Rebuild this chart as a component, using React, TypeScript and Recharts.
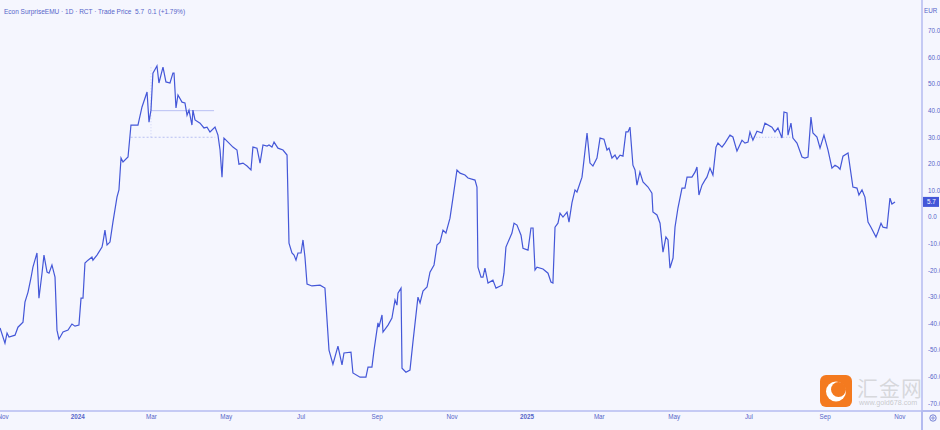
import React from 'react';
import { LineChart, Line, XAxis, YAxis, ReferenceLine } from 'recharts';

// days since 2023-11-01
const days = [
  -2.4, 1.6, 3.3, 4.9, 9.8, 12.2, 16.3, 17.9, 20.4, 22.8, 24.4, 27.7, 29.3, 31.8, 33.4, 35.9, 37.5, 39.9, 42.4, 44.0,
  45.6, 48.9, 53.0, 56.2, 58.7, 61.9, 63.6, 65.2, 66.8, 69.3, 72.5, 73.3, 76.6, 80.7, 81.5, 83.1, 84.8, 87.2, 89.6, 92.9,
  94.5, 96.2, 97.8, 101.9, 104.3, 110.0, 113.3, 117.4, 119.0, 120.6, 122.2, 125.5, 127.1, 130.4, 132.8, 136.1, 138.5, 139.4, 141.0, 142.6,
  145.9, 148.3, 150.0, 151.6, 154.0, 154.8, 156.5, 160.6, 163.8, 166.3, 168.7, 172.8, 175.2, 176.9, 178.5, 180.1, 183.4, 187.4, 190.7, 192.3,
  195.6, 198.9, 202.1, 203.7, 207.0, 209.5, 211.9, 215.2, 216.8, 219.2, 220.9, 224.1, 228.2, 231.5, 233.1, 235.5, 237.2, 238.8, 240.4, 242.9,
  244.5, 246.1, 247.8, 251.8, 258.4, 262.4, 265.7, 268.9, 273.0, 276.3, 277.9, 283.6, 285.2, 291.0, 295.8, 297.5, 300.7, 302.4, 305.6, 306.4,
  308.9, 309.7, 313.8, 317.0, 319.5, 321.1, 321.9, 324.4, 325.2, 328.4, 331.7, 334.1, 338.2, 339.9, 342.3, 345.6, 348.0, 351.3, 353.7, 356.2,
  358.6, 361.0, 364.3, 366.7, 370.0, 372.5, 376.5, 379.0, 384.7, 386.3, 387.1, 389.6, 391.2, 392.8, 395.3, 399.3, 401.8, 406.7, 408.3, 409.9,
  414.8, 416.5, 418.9, 422.2, 423.8, 427.9, 430.3, 432.0, 433.6, 435.2, 440.1, 444.2, 446.6, 448.2, 449.9, 452.3, 454.0, 456.4, 459.7, 461.3,
  463.7, 466.2, 467.8, 471.9, 473.5, 476.0, 478.4, 480.8, 484.1, 486.6, 489.8, 492.3, 493.9, 496.3, 498.8, 500.4, 502.9, 505.3, 507.7, 509.4,
  511.0, 513.4, 515.1, 516.7, 519.1, 521.6, 525.7, 528.9, 529.7, 533.0, 535.5, 537.9, 540.3, 542.0, 543.6, 546.1, 547.7, 550.1, 553.4, 555.8,
  557.5, 561.5, 564.0, 565.6, 567.2, 569.7, 572.1, 573.7, 576.2, 578.6, 581.1, 582.7, 586.0, 588.4, 592.5, 594.9, 598.2, 602.3, 604.7, 607.2,
  608.8, 611.2, 614.5, 618.6, 621.0, 626.7, 629.2, 631.6, 634.9, 636.5, 639.0, 639.8, 642.2, 643.8, 647.1, 651.2, 653.6, 656.1, 658.5, 660.1,
  663.4, 665.9, 669.1, 672.4, 675.6, 678.1, 680.5, 682.2, 684.6, 688.7, 692.7, 696.0, 697.6, 700.1, 702.5, 705.0, 707.4, 711.5, 713.1, 715.6,
  717.2, 720.4, 722.9, 724.5, 727.0,
];

const surprise = [
  -41.7, -47.4, -43.6, -45.1, -44.4, -41.4, -39.5, -32.0, -28.2, -22.9, -18.8, -13.5, -30.5, -21.1, -14.3, -20.7, -21.1, -18.0, -22.6, -42.5,
  -45.9, -43.2, -42.5, -40.2, -41.0, -40.6, -30.5, -30.5, -17.3, -16.2, -15.0, -16.2, -14.3, -11.3, -9.4, -4.9, -10.5, -9.4, -1.9, 7.5,
  10.2, 22.2, 20.7, 22.6, 34.6, 34.6, 41.4, 47.0, 35.7, 40.2, 54.1, 56.8, 50.4, 56.4, 50.8, 50.4, 54.1, 54.1, 41.0, 45.9,
  43.2, 42.9, 38.3, 40.2, 34.6, 40.2, 36.5, 35.3, 33.5, 33.8, 32.0, 33.8, 30.8, 25.2, 15.0, 29.7, 28.2, 26.3, 25.2, 19.9,
  20.3, 19.2, 17.7, 26.3, 25.9, 20.3, 27.1, 26.7, 27.1, 26.3, 28.2, 25.9, 25.2, 23.3, -9.8, -13.5, -14.3, -16.2, -13.5, -13.5,
  -8.6, -15.0, -25.2, -25.9, -25.6, -26.7, -50.0, -55.3, -48.5, -55.6, -51.1, -50.8, -58.6, -60.2, -60.2, -56.4, -56.4, -50.0, -39.8, -41.4,
  -36.8, -43.2, -40.6, -38.0, -31.2, -33.1, -28.6, -26.7, -56.8, -58.3, -57.5, -47.0, -30.1, -32.3, -27.8, -26.3, -20.7, -18.0, -10.5, -9.4,
  -4.9, -6.0, -0.4, 7.1, 17.7, 16.5, 15.8, 14.7, 13.9, 11.3, -18.8, -22.6, -22.6, -19.2, -24.8, -23.7, -26.7, -25.6, -21.1, -11.3,
  -6.0, -2.3, -3.0, -6.8, -11.7, -12.4, -4.1, -4.1, -19.9, -18.8, -19.5, -21.1, -24.4, -24.8, -3.8, -2.3, 1.5, 0.0, 1.9, -1.9,
  5.3, 10.2, 9.4, 15.0, 21.4, 31.6, 20.3, 19.2, 22.2, 29.7, 29.3, 25.2, 25.9, 22.2, 23.3, 21.8, 23.3, 22.9, 32.0, 32.0,
  33.8, 19.5, 17.7, 12.0, 16.9, 13.2, 11.3, 9.0, 1.9, 0.8, -2.3, -13.2, -7.5, -8.6, -19.2, -15.4, -3.8, 3.4, 10.9, 10.9,
  15.0, 15.0, 16.9, 18.8, 8.3, 12.0, 13.9, 15.0, 18.4, 15.8, 26.3, 27.8, 26.3, 27.8, 30.8, 30.1, 24.8, 28.9, 27.8, 28.2,
  32.0, 28.9, 32.3, 31.6, 35.3, 33.8, 32.0, 33.5, 29.7, 39.5, 39.1, 30.8, 35.3, 29.7, 27.8, 22.6, 22.2, 22.6, 37.6, 31.6,
  30.1, 25.9, 30.8, 25.2, 18.4, 19.5, 18.8, 18.0, 22.9, 24.1, 11.3, 10.9, 8.3, 10.2, 7.5, -1.9, -3.8, -7.5, -5.6, -2.3,
  -3.8, -4.1, 7.1, 4.9, 5.7,
];

const monthTicks = [0, 61, 121, 182, 243, 305, 366, 427, 486, 547, 608, 670, 731];
const monthLabels = ['Nov', '2024', 'Mar', 'May', 'Jul', 'Sep', 'Nov', '2025', 'Mar', 'May', 'Jul', 'Sep', 'Nov'];
const valueTicks = [-70, -60, -50, -40, -30, -20, -10, 0, 10, 20, 30, 40, 50, 60, 70];
const lastValue = 5.7;

const data = days.map((d, i) => ({ day: d, value: surprise[i] }));

const BLUE = '#4457d8';
const AXIS = '#b4bbf0';
const TEXT = '#5565c9';
const FONT = '"Liberation Sans", Arial, sans-serif';

const XTick = (props: any) => {
  const { x, y, payload } = props;
  const idx = monthTicks.indexOf(payload.value);
  const label = idx >= 0 ? monthLabels[idx] : '';
  const isYear = label.startsWith('20');
  return (
    <text x={x} y={y} dy="0.71em" textAnchor="middle" fontSize={6.3} fill={TEXT}
      fontFamily={FONT} fontWeight={isYear ? 'bold' : 'normal'}>
      {label}
    </text>
  );
};

const PriceTag = (props: any) => {
  const vb = props.viewBox || {};
  const x = vb.x + vb.width;
  const y = vb.y;
  return (
    <g>
      <rect x={x + 1} y={y - 5} width={16} height={10} fill={BLUE} />
      <text x={x + 5} y={y + 2.3} fontSize={6.3} fill="#ffffff" fontFamily={FONT}>{lastValue.toFixed(1)}</text>
    </g>
  );
};

export default function App() {
  return (
    <div style={{ position: 'fixed', left: 0, top: 0, width: 940, height: 430, background: '#f5f6fe', overflow: 'hidden' }}>
      <div style={{ position: 'absolute', left: 4, top: 8, fontSize: 6.5, color: TEXT, fontFamily: FONT, whiteSpace: 'pre' }}>
        {'Econ SurpriseEMU · 1D · RCT · Trade Price  5.7  0.1 (+1.79%)'}
      </div>
      <div style={{ position: 'absolute', left: 924, top: 7, fontSize: 6.3, color: TEXT, fontFamily: FONT }}>EUR</div>
      <LineChart width={940} height={430} data={data} margin={{ top: 0, right: 0, left: 0, bottom: 0 }}>
        <XAxis
          dataKey="day"
          type="number"
          domain={[-2.44, 749]}
          ticks={monthTicks}
          interval={0}
          tick={<XTick />}
          tickLine={false}
          tickSize={3}
          tickMargin={1}
          axisLine={{ stroke: AXIS, strokeWidth: 1.5 }}
          height={19}
          allowDataOverflow
        />
        <YAxis
          orientation="right"
          type="number"
          domain={[-72.9, 81.6]}
          ticks={valueTicks}
          interval={0}
          tickFormatter={(v) => v.toFixed(1)}
          tick={{ fontSize: 6.3, fill: TEXT, fontFamily: FONT, textAnchor: 'start' }}
          tickLine={false}
          tickSize={3}
          tickMargin={3}
          axisLine={{ stroke: AXIS, strokeWidth: 1.5 }}
          width={18}
          allowDataOverflow
        />
        <ReferenceLine segment={[{ x: 120.6, y: 40 }, { x: 172, y: 40 }]} stroke="#aab3f0" strokeWidth={0.8} />
        <ReferenceLine segment={[{ x: 104, y: 30 }, { x: 173, y: 30 }]} stroke="#aab3f0" strokeWidth={0.8} strokeDasharray="2 2" />
        <ReferenceLine segment={[{ x: 120.6, y: 30 }, { x: 120.6, y: 57 }]} stroke="#c3c9f4" strokeWidth={0.8} strokeDasharray="1 2" />
        <ReferenceLine segment={[{ x: 609, y: 30 }, { x: 644, y: 30 }]} stroke="#aab3f0" strokeWidth={0.8} strokeDasharray="1 2" />
        <ReferenceLine y={lastValue} stroke="none" ifOverflow="visible" label={<PriceTag />} />
        <Line
          type="linear"
          dataKey="value"
          stroke={BLUE}
          strokeWidth={1.2}
          dot={false}
          activeDot={false}
          isAnimationActive={false}
        />
      </LineChart>
      <div style={{ position: 'absolute', left: 922, top: 410, width: 18, height: 1.5, background: AXIS }} />
      <div style={{ position: 'absolute', left: 921.25, top: 411, width: 1.5, height: 19, background: AXIS }} />
      <svg style={{ position: 'absolute', left: 928, top: 413 }} width={10} height={10}>
        <circle cx={5} cy={5} r={3.2} fill="none" stroke={TEXT} strokeWidth={0.8} />
        <circle cx={5} cy={5} r={1.2} fill="none" stroke={TEXT} strokeWidth={0.7} />
      </svg>
      <svg style={{ position: 'absolute', left: 820, top: 375 }} width={33} height={33}>
        <rect x={0} y={0} width={32} height={32} rx={6} fill="#f47a1f" />
        <circle cx={16} cy={16.5} r={10} fill="#ffffff" />
        <circle cx={18.5} cy={14.5} r={7.5} fill="#f47a1f" />
      </svg>
      <div style={{ position: 'absolute', left: 857, top: 374, fontSize: 21, letterSpacing: 1, color: 'rgba(190,190,190,0.55)', fontFamily: '"Noto Sans CJK SC", sans-serif', lineHeight: '26px' }}>
        汇金网
      </div>
      <div style={{ position: 'absolute', left: 859, top: 398, fontSize: 7.2, color: 'rgba(170,170,170,0.6)', fontFamily: FONT }}>
        www.gold678.com
      </div>
    </div>
  );
}
